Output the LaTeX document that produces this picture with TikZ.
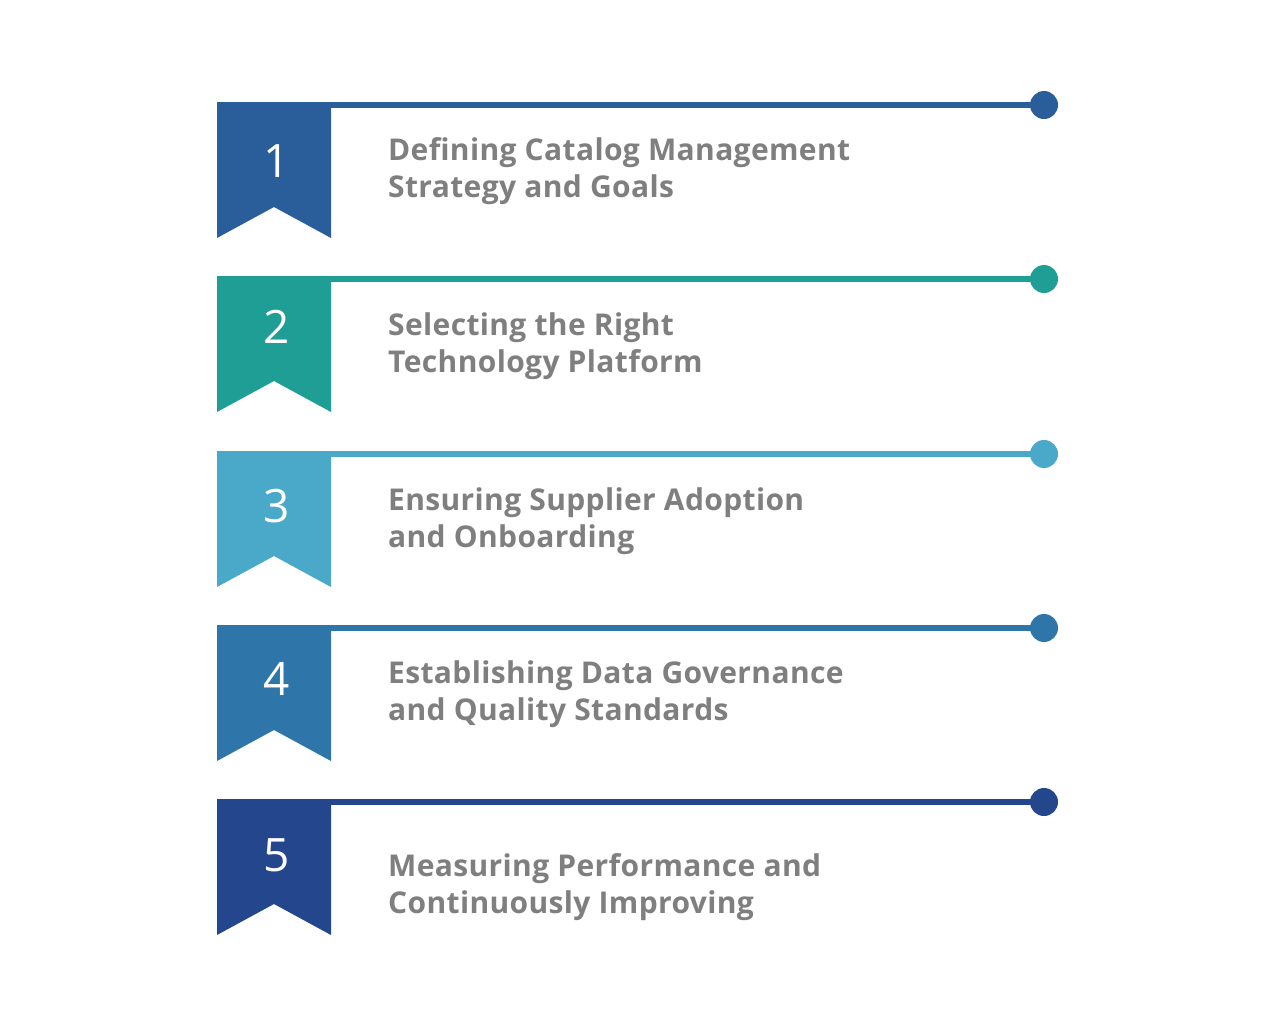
\documentclass[tikz,border=0pt]{standalone}
\usepackage{fontspec}
\setmainfont{Open Sans}
\newfontfamily\labelfont{Open Sans}[LetterSpace=1.2]
\definecolor{ribbonA}{HTML}{2A5E9A}
\definecolor{ribbonB}{HTML}{1F9E96}
\definecolor{ribbonC}{HTML}{4AA8C8}
\definecolor{ribbonD}{HTML}{2E75AA}
\definecolor{ribbonE}{HTML}{24468C}
\definecolor{labelgray}{HTML}{7F7F7F}
\tikzset{
    ribbon/.style={fill=#1, draw=none},
    track/.style={draw=#1, line width=6pt},
    knob/.style={circle, fill=#1, minimum size=28pt, inner sep=0pt},
    numtxt/.style={text=white, font=\fontsize{46}{46}\selectfont, inner sep=0pt},
    steptxt/.style={text=labelgray, font=\labelfont\fontsize{30}{37}\selectfont\bfseries, align=left, inner sep=0pt, anchor=base west}
}
\begin{document}
\begin{tikzpicture}[x=1pt,y=-1pt]
        \useasboundingbox (0,0) rectangle (1280,1026);
        %% one ribbon per step
        \foreach \i/\t/\c/\ny/\ty/\lbl in {
            1/102/ribbonA/161/197/{Defining Catalog Management\\Strategy and Goals},
            2/276/ribbonB/326.5/372/{Selecting the Right\\Technology Platform},
            3/451/ribbonC/506/547/{Ensuring Supplier Adoption\\and Onboarding},
            4/625/ribbonD/679/720/{Establishing Data Governance\\and Quality Standards},
            5/799/ribbonE/855/913/{Measuring Performance and\\Continuously Improving}} {
                %% track and end knob
                \node[knob=\c] (knob\i) at (1044,\t+3) {};
                \coordinate (start\i) at (300,\t+3);
                \draw[track=\c] (start\i) -- (knob\i.center);
                %% banner with notch
                \fill[ribbon=\c] (217,\t) -- (331,\t) -- (331,\t+136) -- (274,\t+105) -- (217,\t+136) -- cycle;
                \node[numtxt] (num\i) at (277,\ny) {\i};
                \node[steptxt] (label\i) at (388,\ty) {\lbl};
            }
    \end{tikzpicture}
\end{document}
